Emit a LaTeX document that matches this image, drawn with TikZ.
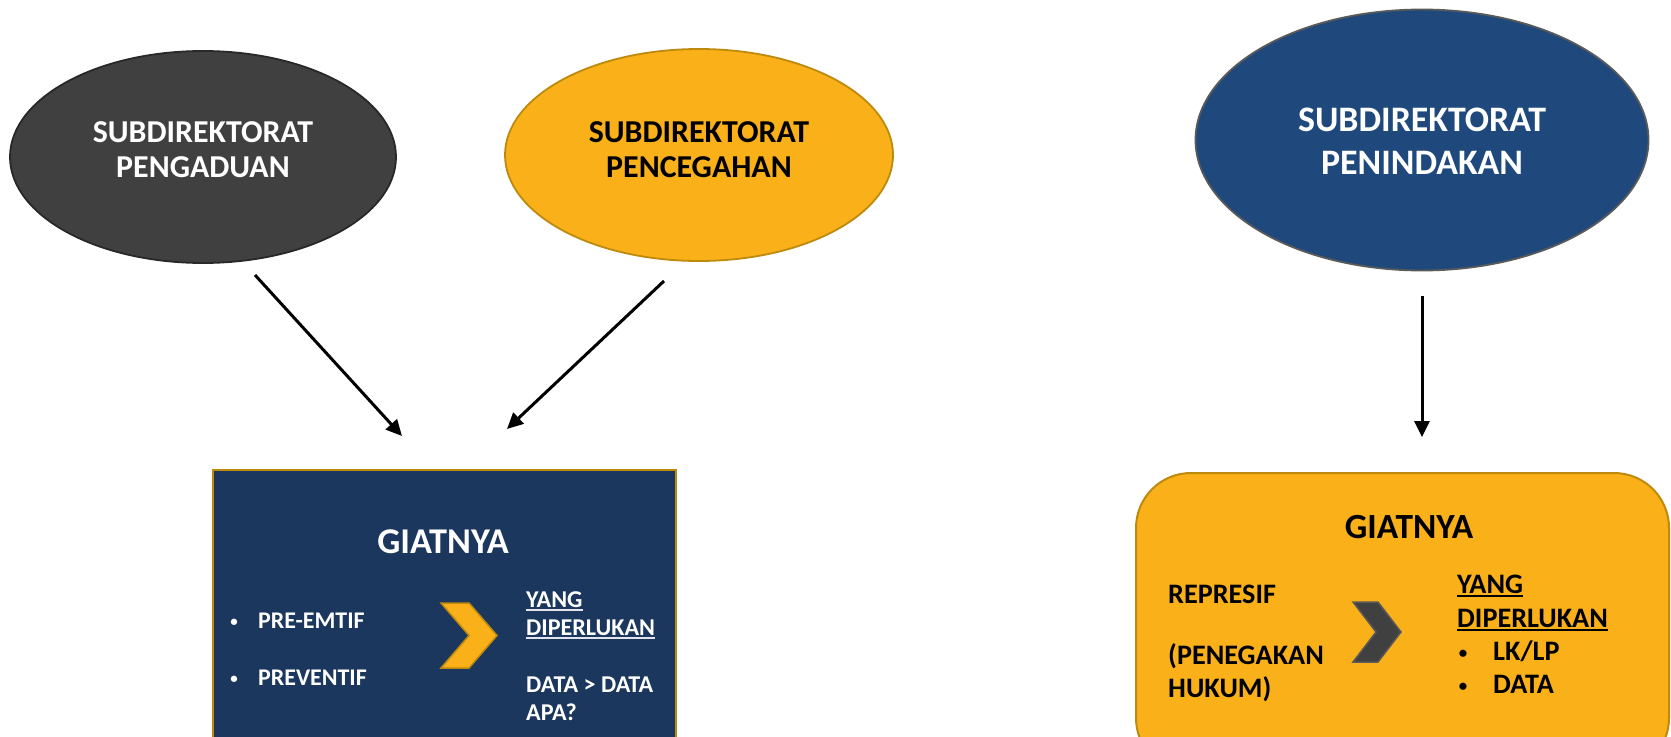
\documentclass[tikz,border=0pt]{standalone}
\usepackage{fontspec}
\setmainfont{Carlito}
\usetikzlibrary{shapes.geometric,arrows.meta}
\definecolor{darkfill}{RGB}{64,64,64}
\definecolor{darkedge}{RGB}{40,40,40}
\definecolor{goldfill}{RGB}{249,176,25}
\definecolor{goldedge}{RGB}{190,138,14}
\definecolor{bluefill}{RGB}{31,73,125}
\definecolor{blueedge}{RGB}{90,90,90}
\definecolor{navyfill}{RGB}{27,55,93}
\definecolor{ulgray}{RGB}{225,228,235}
\newcommand\myul[2][]{\setbox0=\hbox{#2}\rlap{\color{#1}\rule[-3.5bp]{\wd0}{1.8bp}}\box0}
\tikzset{
  ell/.style={ellipse, inner sep=0pt, line width=1.8bp},
  etxt/.style={inner sep=0pt, align=center},
  conn/.style={line width=3bp, -{Triangle[length=16bp,width=15bp]}},
  txt/.style={inner sep=0pt, anchor=base west, font=\bfseries},
  bul/.style={inner sep=0pt, anchor=base, font=\bfseries\fontsize{15}{18}\selectfont},
  ttl/.style={inner sep=0pt, anchor=base},
}
\begin{document}
\begin{tikzpicture}[x=1bp,y=-1bp]
\useasboundingbox (0,0) rectangle (1671,737);
\clip (0,0) rectangle (1671,737);

% ellipses
\node[ell, fill=darkfill, draw=darkedge, minimum width=386bp, minimum height=212bp] (peng) at (203,157) {};
\node[etxt, text=white, font=\bfseries\fontsize{32}{35}\selectfont] (pengt) at ([yshift=7bp]peng.center) {SUBDIREKTORAT\\PENGADUAN};
\node[ell, fill=goldfill, draw=goldedge, minimum width=388bp, minimum height=212bp] (penc) at (699,155) {};
\node[etxt, text=black, font=\bfseries\fontsize{32}{35}\selectfont] (penct) at ([yshift=5bp]penc.center) {SUBDIREKTORAT\\PENCEGAHAN};
\node[ell, fill=bluefill, draw=blueedge, minimum width=453bp, minimum height=261bp] (penin) at (1422,140) {};
\node[etxt, text=white, font=\bfseries\fontsize{36}{43}\selectfont] (penint) at ([yshift=-1bp]penin.center) {SUBDIREKTORAT\\PENINDAKAN};

% box 1
\node[draw=goldedge, fill=navyfill, line width=2bp, inner sep=0pt, minimum width=463bp,
  minimum height=300bp, anchor=north west] (box1) at (212,469) {};
% box 2
\node[draw=goldedge, fill=goldfill, line width=2bp, inner sep=0pt, minimum width=533bp,
  minimum height=300bp, anchor=north west, rounded corners=55bp] (box2) at (1135,472) {};

% connectors
\coordinate (a1s) at (255,275);
\coordinate (a1e) at (402,436);
\coordinate (a2s) at (664,281);
\coordinate (a2e) at (507,429);
\coordinate (a3s) at (1422,296);
\coordinate (a3e) at (1422,437);
\draw[conn] (a1s) -- (a1e);
\draw[conn] (a2s) -- (a2e);
\draw[conn] (a3s) -- (a3e);

% box 1 contents
\begin{scope}[every node/.append style={text=white}]
\node[ttl, font=\bfseries\fontsize{36.4}{40}\selectfont] (g1) at (443,553) {GIATNYA};
\node[bul] (b1) at (234,626) {•};
\node[txt, font=\bfseries\fontsize{24}{28}\selectfont] (pre) at (258,628) {PRE-EMTIF};
\node[bul] (b2) at (234,683) {•};
\node[txt, font=\bfseries\fontsize{24}{28}\selectfont] (prev) at (258,685) {PREVENTIF};
\node[txt, font=\bfseries\fontsize{24.2}{28}\selectfont] (yang1) at (526,607) {\myul[ulgray]{YANG}};
\node[txt, font=\bfseries\fontsize{24.2}{28}\selectfont] (dip1) at (526,635) {\myul[ulgray]{DIPERLUKAN}};
\node[txt, font=\bfseries\fontsize{24.2}{28}\selectfont] (data1) at (526,692) {DATA > DATA};
\node[txt, font=\bfseries\fontsize{24.2}{28}\selectfont] (apa1) at (526,720) {APA?};
\end{scope}
\draw[fill=goldfill, draw=goldedge, line width=1.5bp]
  (441,603) -- (469,603) -- (497,635.5) -- (469,668) -- (441,668) -- (469,635.5) -- cycle;

% box 2 contents
\node[ttl, font=\bfseries\fontsize{35.5}{40}\selectfont] (g2) at (1409,538) {GIATNYA};
\node[txt, font=\bfseries\fontsize{28.3}{30}\selectfont] (rep) at (1168,603) {REPRESIF};
\node[txt, font=\bfseries\fontsize{28.3}{30}\selectfont] (pen) at (1168,664) {(PENEGAKAN};
\node[txt, font=\bfseries\fontsize{28.3}{30}\selectfont] (huk) at (1168,697) {HUKUM)};
\node[txt, font=\bfseries\fontsize{28.3}{30}\selectfont] (yang2) at (1457,593) {\myul[black]{YANG}};
\node[txt, font=\bfseries\fontsize{28.3}{30}\selectfont] (dip2) at (1457,627) {\myul[black]{DIPERLUKAN}};
\node[bul, font=\bfseries\fontsize{17}{20}\selectfont] (b3) at (1463,658) {•};
\node[txt, font=\bfseries\fontsize{28.3}{30}\selectfont] (lk) at (1493,660) {LK/LP};
\node[bul, font=\bfseries\fontsize{17}{20}\selectfont] (b4) at (1463,691) {•};
\node[txt, font=\bfseries\fontsize{28.3}{30}\selectfont] (data2) at (1493,693) {DATA};
\draw[fill=darkfill, draw=blueedge, line width=1.5bp]
  (1353,602) -- (1378,602) -- (1401,632) -- (1378,662) -- (1353,662) -- (1376,632) -- cycle;
\end{tikzpicture}
\end{document}
